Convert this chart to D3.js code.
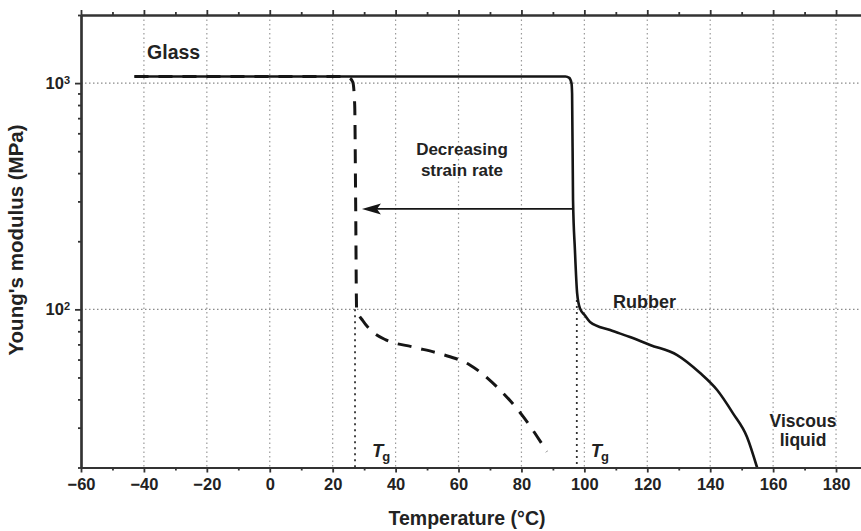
<!DOCTYPE html>
<html>
<head>
<meta charset="utf-8">
<script src="https://cdn.jsdelivr.net/npm/d3@7/dist/d3.min.js"></script>
<style>
  html, body { margin: 0; padding: 0; background: #fff; overflow: hidden; }
  svg { display: block; }
  text { font-family: "Liberation Sans", Arial, Helvetica, sans-serif; font-weight: bold; fill: #222; }
</style>
</head>
<body>
<svg id="chart" width="861" height="531"></svg>
<script>
// Temperature axis (°C)
const tempMajorTicks = [-60, -40, -20, 0, 20, 40, 60, 80, 100, 120, 140, 160, 180];
const tempMinorTicks = [-50, -30, -10, 10, 30, 50, 70, 90, 110, 130, 150, 170, 190];
// Young's modulus axis (MPa), log scale
const modulusMajorTicks = [100, 1000];
const modulusMinorTicks = [20, 30, 40, 50, 60, 70, 80, 90, 200, 300, 400, 500, 600, 700, 800, 900, 2000];

// High strain rate curve (solid)
const fastTemp = [-43, 94.0, 95.2, 95.9, 96.1, 96.4, 97.0, 97.7, 98.6, 100.2, 101.8, 108.2, 114.5, 120.9, 129.5, 136.8, 142.2, 147.2, 151.7, 154.9];
const fastModulus = [1070, 1070, 1055, 1000, 900, 304, 183, 118, 101, 94, 88, 81, 75.5, 69.6, 62.8, 52.3, 44, 34.8, 27.3, 20];

// Low strain rate curve (dashed)
const slowTemp = [-43, 23.0, 25.0, 26.4, 27.0, 27.3, 27.6, 29.6, 32.5, 36.9, 45.5, 54.4, 63.6, 72.5, 80.2, 88.1];
const slowModulus = [1070, 1070, 1060, 1010, 800, 300, 100, 89, 80, 73.3, 68.2, 63.5, 56.8, 45, 34.1, 23.5];

// Glass transition temperatures for the two curves
const tgTemp = [27.1, 97.6];
const tgModulus = [100, 110];

// Strain-rate arrow: from the solid curve to the dashed one
const arrowTemp = [96.3, 29.3];
const arrowModulus = 278;

const svg = d3.select("#chart");

const x = d3.scaleLinear().domain([-60, 190]).range([81, 867.5]);
const y = d3.scaleLog().domain([20, 2000]).range([467.5, 15]);

// Grid lines
const grid = svg.append("g");
grid.selectAll("line.vg")
  .data(tempMajorTicks.filter(d => d > -60))
  .join("line")
  .attr("x1", d => x(d)).attr("x2", d => x(d))
  .attr("y1", y(2000)).attr("y2", y(20))
  .attr("stroke", "#9a9a9a").attr("stroke-width", 1.2)
  .attr("stroke-dasharray", "1.5,3");
grid.selectAll("line.hg")
  .data(modulusMajorTicks)
  .join("line")
  .attr("x1", x(-60)).attr("x2", x(190))
  .attr("y1", d => y(d)).attr("y2", d => y(d))
  .attr("stroke", "#8a8a8a").attr("stroke-width", 1.2)
  .attr("stroke-dasharray", "1.5,2.5");

// Tg markers
svg.append("g").selectAll("line")
  .data(tgTemp)
  .join("line")
  .attr("x1", d => x(d)).attr("x2", d => x(d))
  .attr("y1", (d, i) => y(tgModulus[i])).attr("y2", y(20))
  .attr("stroke", "#333").attr("stroke-width", 1.8)
  .attr("stroke-dasharray", "2,4");

// Curves
const line = d3.line()
  .x(d => x(d[0]))
  .y(d => y(d[1]))
  .curve(d3.curveMonotoneX);

svg.append("path")
  .datum(fastTemp.map((t, i) => [t, fastModulus[i]]))
  .attr("d", line)
  .attr("fill", "none")
  .attr("stroke", "#151515")
  .attr("stroke-width", 2.6);

svg.append("path")
  .datum(slowTemp.map((t, i) => [t, slowModulus[i]]))
  .attr("d", line)
  .attr("fill", "none")
  .attr("stroke", "#151515")
  .attr("stroke-width", 3)
  .attr("stroke-dasharray", "14,10");

// Arrow
const ax0 = x(arrowTemp[0]), ax1 = x(arrowTemp[1]), ay = y(arrowModulus);
svg.append("line")
  .attr("x1", ax0).attr("x2", ax1 + 12)
  .attr("y1", ay).attr("y2", ay)
  .attr("stroke", "#151515").attr("stroke-width", 1.8);
svg.append("path")
  .attr("d", `M${ax1},${ay} L${ax1 + 19},${ay - 5.5} L${ax1 + 15},${ay} L${ax1 + 19},${ay + 5.5} Z`)
  .attr("fill", "#151515");

// Axes
const axisColor = "#333";
const xAxisBottom = svg.append("g")
  .attr("transform", `translate(0,${y(20)})`)
  .call(d3.axisBottom(x).tickValues(tempMajorTicks).tickSize(5).tickPadding(6).tickSizeOuter(0));
const xMinorBottom = svg.append("g")
  .attr("transform", `translate(0,${y(20)})`)
  .call(d3.axisBottom(x).tickValues(tempMinorTicks).tickSize(3).tickFormat("").tickSizeOuter(0));
const xAxisTop = svg.append("g")
  .attr("transform", `translate(0,${y(2000)})`)
  .call(d3.axisTop(x).tickValues(tempMajorTicks).tickSize(5).tickFormat("").tickSizeOuter(0));
const xMinorTop = svg.append("g")
  .attr("transform", `translate(0,${y(2000)})`)
  .call(d3.axisTop(x).tickValues(tempMinorTicks).tickSize(3).tickFormat("").tickSizeOuter(0));
const yAxis = svg.append("g")
  .attr("transform", `translate(${x(-60)},0)`)
  .call(d3.axisLeft(y).tickValues(modulusMajorTicks).tickSize(6).tickPadding(5).tickSizeOuter(0));
const yMinor = svg.append("g")
  .attr("transform", `translate(${x(-60)},0)`)
  .call(d3.axisLeft(y).tickValues(modulusMinorTicks).tickSize(3).tickFormat("").tickSizeOuter(0));

[xAxisBottom, xMinorBottom, xAxisTop, xMinorTop, yAxis, yMinor].forEach(g => {
  g.select(".domain").attr("stroke", axisColor).attr("stroke-width", 2.2);
  g.selectAll(".tick line").attr("stroke", axisColor).attr("stroke-width", 1.8);
  g.selectAll(".tick text")
    .attr("fill", "#222")
    .style("font-family", '"Liberation Sans", Arial, sans-serif')
    .style("font-weight", "bold")
    .style("font-size", "16.5px");
});

// Power-of-ten labels on the modulus axis
yAxis.selectAll(".tick text").each(function(d) {
  const t = d3.select(this).text(null);
  t.append("tspan").text("10");
  t.append("tspan").text(String(Math.round(Math.log10(d))))
    .attr("dy", "-0.45em").style("font-size", "11px");
});

// Axis titles
svg.append("text")
  .attr("x", 467).attr("y", 525)
  .attr("text-anchor", "middle")
  .style("font-size", "19.5px")
  .text("Temperature (°C)");
svg.append("text")
  .attr("transform", `translate(23,240) rotate(-90)`)
  .attr("text-anchor", "middle")
  .style("font-size", "20.5px")
  .text("Young's modulus (MPa)");

// Region labels
const label = (t, v, str, anchor, size) => svg.append("text")
  .attr("x", x(t)).attr("y", y(v))
  .attr("text-anchor", anchor)
  .style("font-size", size)
  .text(str);
label(-39.0, 1279, "Glass", "start", "19.5px");
label(109.1, 101.4, "Rubber", "start", "18px");
label(169.5, 30.2, "Viscous", "middle", "17.5px");
label(169.5, 24.9, "liquid", "middle", "17.5px");
label(61.1, 480, "Decreasing", "middle", "17px");
label(61.1, 390, "strain rate", "middle", "17px");

// Tg labels
const tgOffsets = [17, 14];
tgTemp.forEach((t, i) => {
  const tx = svg.append("text")
    .attr("x", x(t) + tgOffsets[i]).attr("y", y(22.3))
    .style("font-size", "18.5px");
  tx.append("tspan").text("T").style("font-style", "italic");
  tx.append("tspan").text("g").attr("dy", "0.33em").attr("dx", "-1").style("font-size", "13px");
});
</script>
</body>
</html>
